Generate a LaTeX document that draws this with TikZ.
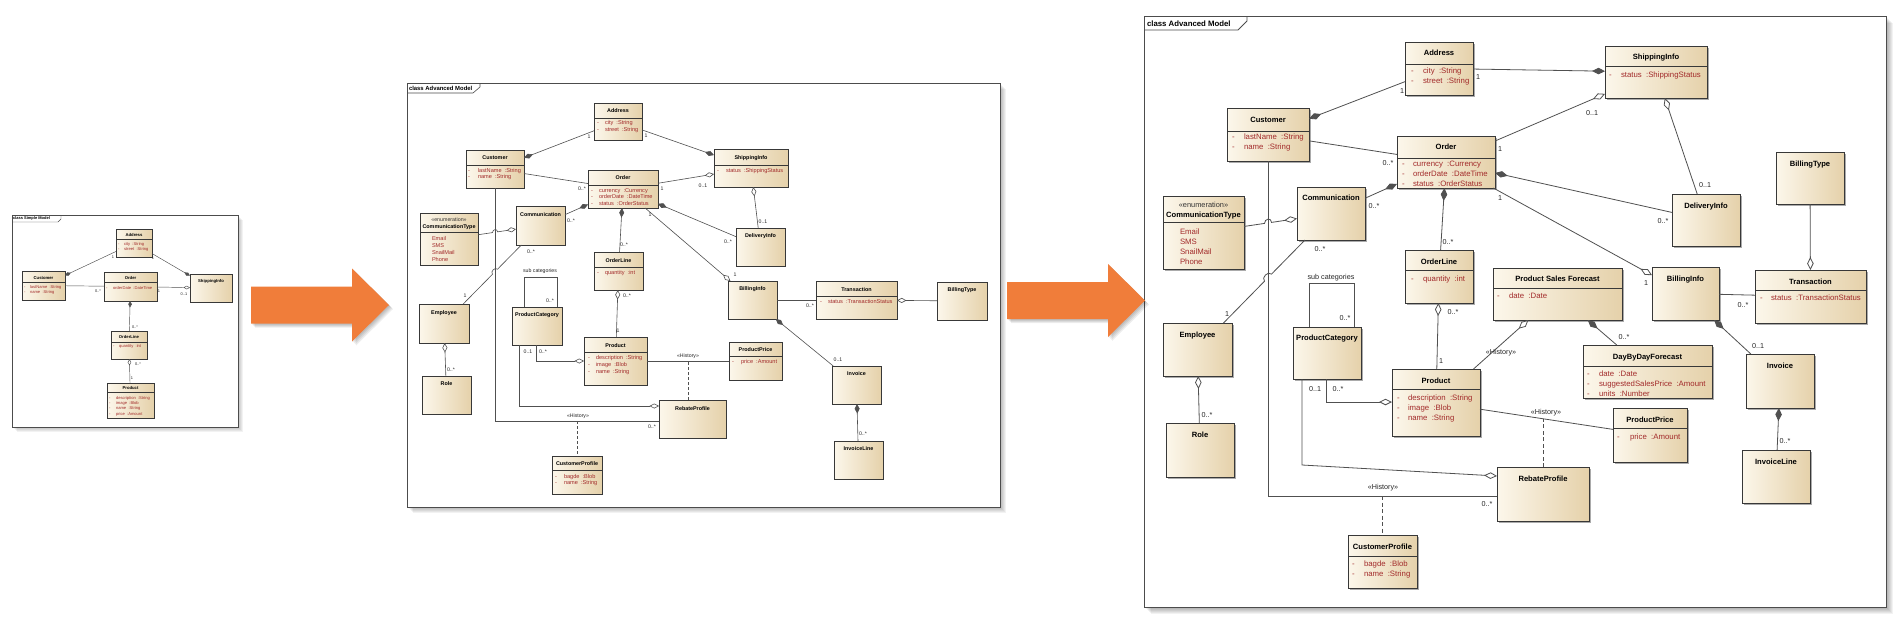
\documentclass[tikz,border=0pt]{standalone}
\usepackage{fontspec}
\setmainfont{Liberation Sans}
\usetikzlibrary{arrows.meta,shadows}
\definecolor{attrc}{HTML}{A22A2A}
\definecolor{cl}{HTML}{FCF7EB}
\definecolor{cr}{HTML}{E5D1AA}
\definecolor{orng}{HTML}{F07D3A}
\definecolor{lnc}{HTML}{505050}
\newcounter{tn}
\newcommand\T[3][]{\stepcounter{tn}\node[#1] (t\arabic{tn}) at (#2) {#3};}
\newcommand\C[6]{\node[box#1, minimum width={#5-#3}, minimum height={#6-#4}] (#2) at ({(#3+#5)/2},{(#4+#6)/2}) {};}
\newcommand\Ti[4]{\stepcounter{tn}\node[ttl#1] (t\arabic{tn}) at (#2.center |- 0,#3) {#4};}
\newcommand\Sp[3]{\draw[sep#1] (#2.west |- 0,#3) -- (#2.east |- 0,#3);}
\newcommand\At[6]{\stepcounter{tn}\node[att#1] (t\arabic{tn}) at (#2,#4) {-};\stepcounter{tn}\node[att#1] (t\arabic{tn}) at (#3,#4) {#5\hspace{.55em}:#6};}
\newcommand\Li[4]{\stepcounter{tn}\node[att#1] (t\arabic{tn}) at (#2,#3) {#4};}
\newcommand\M[3]{\stepcounter{tn}\node[mul#1] (t\arabic{tn}) at (#2) {#3};}
% big arrow: #1 x of tail, #2 y of centre line
\newcommand\BigArrow[2]{%
  \foreach \s in {1,2,3,4}{\fill[black,opacity=.07,shift={(\s,\s)}] (#1,#2-18.5) -- (#1+101,#2-18.5) -- (#1+101,#2-36.5) -- (#1+138,#2) -- (#1+101,#2+36.5) -- (#1+101,#2+18.5) -- (#1,#2+18.5) -- cycle;}
  \fill[orng] (#1,#2-18.5) -- (#1+101,#2-18.5) -- (#1+101,#2-36.5) -- (#1+138,#2) -- (#1+101,#2+36.5) -- (#1+101,#2+18.5) -- (#1,#2+18.5) -- cycle;}
\tikzset{
  x=1pt, y=-1pt,
  bx/.style={draw=black!78, left color=cl, right color=cr, inner sep=0pt, outer sep=0pt},
  boxR/.style={bx, line width=.8pt, drop shadow={shadow xshift=1.6pt, shadow yshift=-1.6pt, fill=black!60, opacity=.55}},
  boxM/.style={bx, line width=.6pt, drop shadow={shadow xshift=1.2pt, shadow yshift=-1.2pt, fill=black!60, opacity=.55}},
  boxL/.style={bx, line width=.45pt, drop shadow={shadow xshift=.9pt, shadow yshift=-.9pt, fill=black!60, opacity=.55}},
  tx/.style={inner sep=0pt, outer sep=0pt},
  ttlR/.style={tx, text height=5.5pt, text depth=1.5pt, font=\fontsize{7.6}{9}\selectfont\bfseries},
  ttlM/.style={tx, text height=3.9pt, text depth=1.1pt, font=\fontsize{5.4}{6.5}\selectfont\bfseries},
  ttlL/.style={tx, text height=3.0pt, text depth=.8pt, font=\fontsize{4.2}{5}\selectfont\bfseries},
  sterR/.style={tx, text height=5.5pt, text depth=1.5pt, text=black!80, font=\fontsize{7.4}{9}\selectfont},
  sterM/.style={tx, text height=3.9pt, text depth=1.1pt, text=black!80, font=\fontsize{5.3}{6.5}\selectfont},
  attR/.style={tx, anchor=west, text=attrc, text height=5.6pt, text depth=1.6pt, font=\fontsize{7.8}{9}\selectfont},
  attM/.style={tx, anchor=west, text=attrc, text height=4pt, text depth=1.15pt, font=\fontsize{5.6}{6.5}\selectfont},
  attL/.style={tx, anchor=west, text=attrc, text height=2.95pt, text depth=.85pt, font=\fontsize{4.1}{5}\selectfont},
  sepR/.style={draw=black!78, line width=.7pt},
  sepM/.style={draw=black!78, line width=.5pt},
  sepL/.style={draw=black!78, line width=.4pt},
  mulR/.style={tx, text=black!85, font=\fontsize{7.2}{8}\selectfont},
  mulM/.style={tx, text=black!85, font=\fontsize{5.2}{6}\selectfont},
  mulL/.style={tx, text=black!85, font=\fontsize{3.9}{5}\selectfont},
  tabR/.style={tx, anchor=west, font=\fontsize{7.8}{9}\selectfont\bfseries},
  tabM/.style={tx, anchor=west, font=\fontsize{5.9}{7}\selectfont\bfseries},
  tabL/.style={tx, anchor=west, font=\fontsize{4.0}{5}\selectfont\bfseries},
  lnR/.style={draw=lnc, line width=.8pt},
  lnM/.style={draw=lnc, line width=.6pt},
  lnL/.style={draw=lnc, line width=.45pt},
  compR/.style={lnR, -{Diamond[length=13pt,width=6.5pt]}},
  aggR/.style={lnR, -{Diamond[length=13pt,width=6.5pt,fill=white]}},
  compM/.style={lnM, -{Diamond[length=9.5pt,width=5pt]}},
  aggM/.style={lnM, -{Diamond[length=9.5pt,width=5pt,fill=white]}},
  compL/.style={lnL, -{Diamond[length=6.5pt,width=3.5pt]}},
  aggL/.style={lnL, -{Diamond[length=6.5pt,width=3.5pt,fill=white]}},
  dashR/.style={lnR, dash pattern=on 4pt off 2.5pt},
  dashM/.style={lnM, dash pattern=on 3pt off 2pt},
}
\begin{document}
\begin{tikzpicture}
\useasboundingbox (0,0) rectangle (1899,622);
\fill[white] (0,0) rectangle (1899,622);

% ================= LEFT: Simple Model =================
\foreach \i in {1,...,5}{\fill[black,opacity=.05] ({12+\i},{215+\i}) rectangle ({238+\i},{427+\i});}
\draw[fill=white, draw=black!70, line width=.45pt] (12,215) rectangle (238,427);
\draw[draw=black!70, line width=.45pt] (12,222) -- (58,222) -- (61,219) -- (61,215);
\T[tabL]{13,218.6}{class Simple Model}

\C{L}{addrL}{116}{229}{152}{257}
\C{L}{custL}{22}{271}{65}{300}
\C{L}{orderL}{104}{272}{157}{301}
\C{L}{shipL}{190}{274}{232}{302}
\C{L}{olineL}{111}{331}{147}{359}
\C{L}{prodL}{107}{383}{154}{418}
\Ti{L}{addrL}{235}{Address} \Sp{L}{addrL}{239}
\At{L}{118}{124}{244}{city}{String}
\At{L}{118}{124}{249}{street}{String}
\Ti{L}{custL}{278}{Customer} \Sp{L}{custL}{282}
\At{L}{24}{30}{287}{lastName}{String}
\At{L}{24}{30}{292}{name}{String}
\Ti{L}{orderL}{278}{Order} \Sp{L}{orderL}{282}
\At{L}{106}{113}{288}{orderDate}{DateTime}
\Ti{L}{shipL}{281}{ShippingInfo}
\Ti{L}{olineL}{337}{OrderLine} \Sp{L}{olineL}{342}
\At{L}{113}{119}{346.5}{quantity}{int}
\Ti{L}{prodL}{388}{Product} \Sp{L}{prodL}{392}
\At{L}{109}{116}{398}{description}{String}
\At{L}{109}{116}{403.3}{image}{Blob}
\At{L}{109}{116}{408.6}{name}{String}
\At{L}{109}{116}{414}{price}{Amount}

\draw[compL] (addrL) -- (custL);
\draw[compL] (addrL) -- (shipL);
\draw[lnL] (custL) -- (orderL);
\draw[aggL] (orderL) -- (shipL);
\draw[compL] (olineL) -- (orderL);
\draw[aggL] (prodL) -- (olineL);
\M{L}{113,257}{1}
\M{L}{153,258}{1}
\M{L}{98,291}{0..*}
\M{L}{159,291}{1}
\M{L}{184,294}{0..1}
\M{L}{135,327}{0..*}
\M{L}{138,364}{0..*}
\M{L}{132,378}{1}

% ================= MIDDLE: Advanced Model =================
\foreach \i in {1,...,6}{\fill[black,opacity=.05] ({407+\i},{83+\i}) rectangle ({1000+\i},{507+\i});}
\draw[fill=white, draw=black!70, line width=.6pt] (407,83) rectangle (1000,507);
\draw[draw=black!70, line width=.6pt] (407,93) -- (473,93) -- (480,87) -- (480,83);
\T[tabM]{409,88}{class Advanced Model}

\C{M}{addrM}{594}{103}{642}{140}
\C{M}{custM}{466}{150}{524}{188}
\C{M}{orderM}{588}{170}{658}{208}
\C{M}{commM}{516}{206}{565}{245}
\C{M}{ctypeM}{420}{213}{478}{265}
\C{M}{olineM}{594}{252}{643}{290}
\C{M}{shipM}{714}{149}{788}{187}
\C{M}{delivM}{736}{228}{785}{266}
\C{M}{binfoM}{728}{281}{777}{319}
\C{M}{transM}{816}{281}{897}{319}
\C{M}{btypeM}{937}{282}{987}{320}
\C{M}{empM}{419}{304}{469}{343}
\C{M}{roleM}{422}{376}{471}{414}
\C{M}{pcatM}{512}{307}{562}{345}
\C{M}{prodM}{584}{337}{647}{385}
\C{M}{ppriceM}{729}{342}{782}{380}
\C{M}{rebateM}{659}{400}{726}{438}
\C{M}{invM}{832}{366}{881}{404}
\C{M}{ilineM}{834}{441}{883}{479}
\C{M}{cprofM}{552}{456}{602}{494}

\Ti{M}{addrM}{111}{Address} \Sp{M}{addrM}{118}
\At{M}{597}{605}{123.5}{city}{String}
\At{M}{597}{605}{130.5}{street}{String}
\Ti{M}{custM}{158}{Customer} \Sp{M}{custM}{165}
\At{M}{468}{478}{171}{lastName}{String}
\At{M}{468}{478}{177.5}{name}{String}
\Ti{M}{orderM}{178}{Order} \Sp{M}{orderM}{185}
\At{M}{591}{599}{191}{currency}{Currency}
\At{M}{591}{599}{197.5}{orderDate}{DateTime}
\At{M}{591}{599}{204}{status}{OrderStatus}
\Ti{M}{commM}{215}{Communication}
\T[sterM]{ctypeM.center |- 0,220.5}{«enumeration»}
\Ti{M}{ctypeM}{227}{CommunicationType} \Sp{M}{ctypeM}{232}
\Li{M}{432}{239}{Email}
\Li{M}{432}{246}{SMS}
\Li{M}{432}{253}{SnailMail}
\Li{M}{432}{260}{Phone}
\Ti{M}{olineM}{261}{OrderLine} \Sp{M}{olineM}{267}
\At{M}{597}{605}{273}{quantity}{int}
\Ti{M}{shipM}{158}{ShippingInfo} \Sp{M}{shipM}{165}
\At{M}{717}{726}{171}{status}{ShippingStatus}
\Ti{M}{delivM}{236}{DeliveryInfo}
\Ti{M}{binfoM}{289}{BillingInfo}
\Ti{M}{transM}{290}{Transaction} \Sp{M}{transM}{296}
\At{M}{820}{828}{302}{status}{TransactionStatus}
\Ti{M}{btypeM}{290}{BillingType}
\Ti{M}{empM}{313}{Employee}
\Ti{M}{roleM}{384}{Role}
\Ti{M}{pcatM}{315}{ProductCategory}
\Ti{M}{prodM}{346}{Product} \Sp{M}{prodM}{352}
\At{M}{588}{596}{358}{description}{String}
\At{M}{588}{596}{365}{image}{Blob}
\At{M}{588}{596}{372}{name}{String}
\Ti{M}{ppriceM}{350}{ProductPrice} \Sp{M}{ppriceM}{356}
\At{M}{732}{741}{362}{price}{Amount}
\Ti{M}{rebateM}{409}{RebateProfile}
\Ti{M}{invM}{374}{Invoice}
\Ti{M}{ilineM}{449}{InvoiceLine}
\Ti{M}{cprofM}{464}{CustomerProfile} \Sp{M}{cprofM}{470}
\At{M}{555}{564}{477}{bagde}{Blob}
\At{M}{555}{564}{483.5}{name}{String}

\draw[compM] (addrM) -- (custM);
\draw[compM] (addrM) -- (shipM);
\draw[lnM] (custM) -- (orderM);
\draw[aggM] (orderM) -- (shipM);
\draw[aggM] (delivM) -- (shipM);
\draw[compM] (delivM) -- (orderM);
\draw[aggM] (orderM) -- (binfoM);
\draw[compM] (commM) -- (orderM);
\draw[compM] (olineM) -- (orderM);
\draw[aggM] (prodM) -- (olineM);
\draw[aggM] (ctypeM) -- (492.5,232.6) .. controls +(0,-3.5) and +(0,-3.5) .. (497.5,231.85) -- (commM);
\draw[lnM] (commM) -- (497.5,269.2) .. controls +(-2.5,-2.5) and +(-2.5,-2.5) .. (492.5,274.25) -- (empM);
\draw[aggM] (roleM) -- (empM);
\draw[lnM] (custM.south) |- (rebateM.west |- 0,421);
\draw[dashM] (cprofM.north |- 0,421) -- (cprofM.north);
\draw[aggM] (pcatM.south -| 519,0) |- (rebateM.west |- 0,406);
\draw[aggM] (pcatM.south -| 536,0) |- (prodM.west |- 0,361);
\draw[lnM] (prodM) -- (ppriceM);
\draw[dashM] (rebateM.north -| 688,0) -- (688,361);
\draw[lnM] (binfoM) -- (transM);
\draw[aggM] (btypeM) -- (transM);
\draw[compM] (invM) -- (binfoM);
\draw[compM] (ilineM) -- (invM);
\draw[lnM] (pcatM.north -| 524,0) -- (524,277) -- (557,277) -- (pcatM.north -| 557,0);

\M{M}{589,137}{1}
\M{M}{646,136}{1}
\M{M}{582,189}{0..*}
\M{M}{662,189}{1}
\M{M}{703,186}{0..1}
\M{M}{763,222}{0..1}
\M{M}{728,242}{0..*}
\M{M}{650,215}{1}
\M{M}{735,275}{1}
\M{M}{571,221}{0..*}
\M{M}{624,245}{0..*}
\M{M}{627,296}{0..*}
\M{M}{618,331}{1}
\M{M}{531,252}{0..*}
\M{M}{465,296}{1}
\M{M}{451,370}{0..*}
\M{M}{652,427}{0..*}
\M{M}{578,416}{«History»}
\M{M}{528,352}{0..1}
\M{M}{543,352}{0..*}
\M{M}{688,356}{«History»}
\M{M}{810,306}{0..*}
\M{M}{838,360}{0..1}
\M{M}{863,434}{0..*}
\M{M}{540,271}{sub categories}
\M{M}{550,301}{0..*}

% ================= RIGHT: Advanced Model =================
\foreach \i in {1,...,7}{\fill[black,opacity=.05] ({1144+\i},{16+\i}) rectangle ({1886+\i},{607+\i});}
\draw[fill=white, draw=black!70, line width=.8pt] (1144,16) rectangle (1886,607);
\draw[draw=black!70, line width=.8pt] (1144,30) -- (1238,30) -- (1247,21) -- (1247,16);
\T[tabR]{1147,23.3}{class Advanced Model}

% ================= ARROWS =================
\BigArrow{251}{305}
\BigArrow{1007}{300.5}

\C{R}{addr}{1405}{42}{1473}{95}
\C{R}{cust}{1227}{108}{1309}{161}
\C{R}{order}{1397}{136}{1495}{188}
\C{R}{comm}{1297}{187}{1365}{240}
\C{R}{ctype}{1163}{196}{1244}{269}
\C{R}{oline}{1405}{250}{1473}{303}
\C{R}{psf}{1493}{268}{1622}{320}
\C{R}{binfo}{1652}{267}{1719}{320}
\C{R}{trans}{1755}{270}{1866}{323}
\C{R}{btype}{1776}{152}{1844}{204}
\C{R}{ship}{1605}{46}{1707}{98}
\C{R}{deliv}{1672}{194}{1740}{246}
\C{R}{emp}{1163}{323}{1232}{376}
\C{R}{role}{1166}{423}{1234}{477}
\C{R}{pcat}{1293}{327}{1361}{379}
\C{R}{prod}{1392}{369}{1480}{436}
\C{R}{dbd}{1583}{345}{1712}{398}
\C{R}{inv}{1746}{354}{1814}{408}
\C{R}{iline}{1742}{450}{1810}{503}
\C{R}{pprice}{1613}{408}{1687}{462}
\C{R}{rebate}{1497}{467}{1589}{521}
\C{R}{cprof}{1348}{535}{1417}{588}

\Ti{R}{addr}{53}{Address} \Sp{R}{addr}{64}
\At{R}{1411}{1423}{71}{city}{String}
\At{R}{1411}{1423}{81}{street}{String}
\Ti{R}{cust}{120}{Customer} \Sp{R}{cust}{131}
\At{R}{1232}{1244}{137}{lastName}{String}
\At{R}{1232}{1244}{147}{name}{String}
\Ti{R}{order}{147}{Order} \Sp{R}{order}{158}
\At{R}{1402}{1413}{164}{currency}{Currency}
\At{R}{1402}{1413}{174}{orderDate}{DateTime}
\At{R}{1402}{1413}{184}{status}{OrderStatus}
\Ti{R}{comm}{198}{Communication}
\T[sterR]{ctype.center |- 0,205}{«enumeration»}
\Ti{R}{ctype}{215}{CommunicationType} \Sp{R}{ctype}{222}
\Li{R}{1180}{232}{Email}
\Li{R}{1180}{242}{SMS}
\Li{R}{1180}{252}{SnailMail}
\Li{R}{1180}{262}{Phone}
\Ti{R}{oline}{262}{OrderLine} \Sp{R}{oline}{270}
\At{R}{1411}{1423}{279}{quantity}{int}
\Ti{R}{psf}{279}{Product Sales Forecast} \Sp{R}{psf}{288}
\At{R}{1497}{1509}{296}{date}{Date}
\Ti{R}{binfo}{279}{BillingInfo}
\Ti{R}{trans}{282}{Transaction} \Sp{R}{trans}{290}
\At{R}{1760}{1771}{298}{status}{TransactionStatus}
\Ti{R}{btype}{164}{BillingType}
\Ti{R}{ship}{57}{ShippingInfo} \Sp{R}{ship}{66}
\At{R}{1609}{1621}{75}{status}{ShippingStatus}
\Ti{R}{deliv}{206}{DeliveryInfo}
\Ti{R}{emp}{335}{Employee}
\Ti{R}{role}{435}{Role}
\Ti{R}{pcat}{338}{ProductCategory}
\Ti{R}{prod}{381}{Product} \Sp{R}{prod}{389}
\At{R}{1397}{1408}{398}{description}{String}
\At{R}{1397}{1408}{408}{image}{Blob}
\At{R}{1397}{1408}{418}{name}{String}
\Ti{R}{dbd}{357}{DayByDayForecast} \Sp{R}{dbd}{366}
\At{R}{1587}{1599}{374}{date}{Date}
\At{R}{1587}{1599}{384}{suggestedSalesPrice}{Amount}
\At{R}{1587}{1599}{394}{units}{Number}
\Ti{R}{inv}{366}{Invoice}
\Ti{R}{iline}{462}{InvoiceLine}
\Ti{R}{pprice}{420}{ProductPrice} \Sp{R}{pprice}{428}
\At{R}{1617}{1630}{437}{price}{Amount}
\Ti{R}{rebate}{479}{RebateProfile}
\Ti{R}{cprof}{547}{CustomerProfile} \Sp{R}{cprof}{556}
\At{R}{1352}{1364}{564}{bagde}{Blob}
\At{R}{1352}{1364}{574}{name}{String}

\draw[compR] (addr) -- (cust);
\draw[compR] (addr) -- (ship);
\draw[lnR] (cust) -- (order);
\draw[aggR] (order) -- (ship);
\draw[aggR] (deliv) -- (ship);
\draw[compR] (deliv) -- (order);
\draw[aggR] (order) -- (binfo);
\draw[compR] (comm) -- (order);
\draw[compR] (oline) -- (order);
\draw[aggR] (prod) -- (oline);
\draw[aggR] (ctype) -- (1264.5,223.4) .. controls +(0,-5) and +(0,-5) .. (1271.5,222.4) -- (comm);
\draw[lnR] (comm) -- (1271.5,274.1) .. controls +(-3.5,-3.5) and +(-3.5,-3.5) .. (1264.5,281.2) -- (emp);
\draw[aggR] (role) -- (emp);
\draw[lnR] (cust.south) |- (rebate.west |- 0,496);
\draw[dashR] (cprof.north |- 0,496) -- (cprof.north);
\draw[aggR] (pcat.south -| 1302,0) -- (1302,465) -- (rebate.west |- 0,476);
\draw[aggR] (pcat.south -| 1326,0) |- (prod.west |- 0,402);
\draw[lnR] (prod) -- (pprice);
\draw[dashR] (rebate.north) -- (rebate.north |- 0,419);
\draw[aggR] (prod) -- (psf);
\draw[compR] (dbd) -- (psf);
\draw[lnR] (binfo) -- (trans);
\draw[aggR] (btype) -- (trans);
\draw[compR] (inv) -- (binfo);
\draw[compR] (iline) -- (inv);
\draw[lnR] (pcat.north -| 1309,0) -- (1309,283) -- (1354,283) -- (pcat.north -| 1354,0);

\M{R}{1402,91}{1}
\M{R}{1478,77}{1}
\M{R}{1388,163}{0..*}
\M{R}{1500,149}{1}
\M{R}{1592,113}{0..1}
\M{R}{1705,185}{0..1}
\M{R}{1663,221}{0..*}
\M{R}{1500,198}{1}
\M{R}{1646,283}{1}
\M{R}{1374,206}{0..*}
\M{R}{1448,242}{0..*}
\M{R}{1453,312}{0..*}
\M{R}{1441,361}{1}
\M{R}{1320,249}{0..*}
\M{R}{1227,314}{1}
\M{R}{1207,415}{0..*}
\M{R}{1487,504}{0..*}
\M{R}{1383,488}{«History»}
\M{R}{1315,389}{0..1}
\M{R}{1338,389}{0..*}
\M{R}{1546,413}{«History»}
\M{R}{1501,353}{«History»}
\M{R}{1624,337}{0..*}
\M{R}{1743,305}{0..*}
\M{R}{1758,346}{0..1}
\M{R}{1785,441}{0..*}
\M{R}{1331,278}{sub categories}
\M{R}{1345,318}{0..*}
\end{tikzpicture}
\end{document}
